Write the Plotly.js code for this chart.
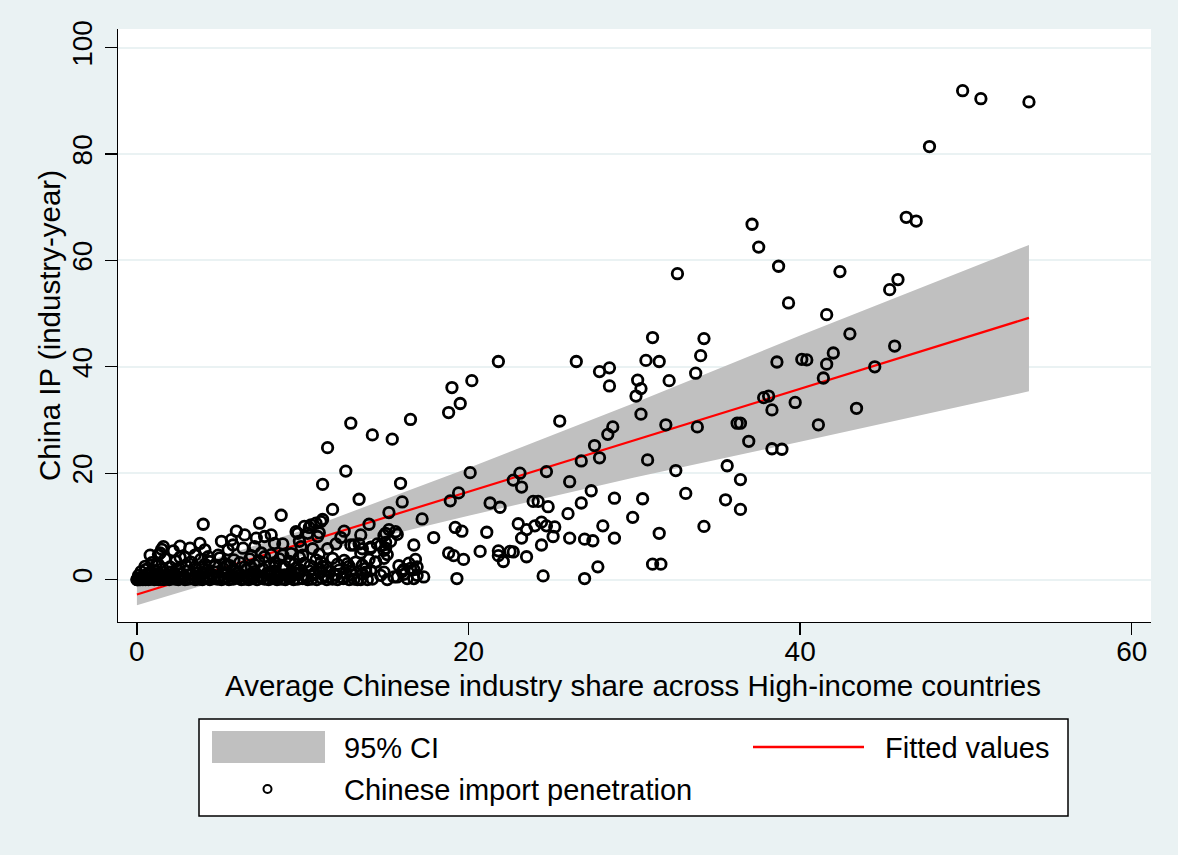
<!DOCTYPE html>
<html>
<head>
<meta charset="utf-8">
<script src="https://cdn.plot.ly/plotly-3.0.1.min.js"></script>
<style>html,body{margin:0;padding:0;background:#EAF2F3;}#chart{width:1178px;height:855px;}</style>
</head>
<body>
<div id="chart"></div>
<script>
// ---- Data ----
// x: Average Chinese industry share across High-income countries; y: China IP (industry-year)
const shareHigh = [
  53.8,50.9,49.8,47.8,46.4,47.0,37.1,37.5,38.7,42.4,
  32.6,45.9,45.4,39.3,41.6,43.0,31.1,34.2,45.7,42.0,
  34.0,40.1,40.4,30.7,31.5,38.6,41.6,44.5,33.7,41.4,
  30.2,32.1,30.4,30.1,38.1,37.8,39.7,43.4,38.3,30.4,
  36.2,36.4,31.9,41.1,33.8,36.9,38.3,38.9,30.8,35.6,
  32.5,36.4,33.1,30.5,35.5,36.4,29.9,34.2,31.5,31.1,
  31.6
];
const ipHigh = [
  89.8,90.4,91.9,81.4,68.1,67.4,66.8,62.5,58.9,57.9,
  57.5,56.4,54.5,52.0,49.8,46.2,45.5,45.3,43.9,42.6,
  42.1,41.4,41.3,41.2,41.0,40.9,40.5,40.0,38.8,37.9,
  37.5,37.4,35.9,34.5,34.5,34.2,33.3,32.2,31.9,31.1,
  29.4,29.4,29.1,29.1,28.7,26.0,24.6,24.5,22.5,21.4,
  20.5,18.8,16.2,15.2,15.0,13.2,11.7,10.0,8.7,2.9,
  2.9
];

const shareMid = [
  21.8,26.5,28.5,27.9,20.2,28.5,19.0,19.5,18.8,16.5,
  25.5,12.9,28.7,28.4,14.2,15.4,27.6,11.5,27.9,26.8,
  12.6,24.7,20.1,23.1,22.7,26.1,15.9,11.2,23.2,27.4,
  19.4,28.8,13.4,18.9,23.9,24.2,16.0,26.8,21.3,24.8,
  21.9,11.8,15.2,26.0,8.7,17.2,11.2,11.1,24.4,10.8,
  23.0,14.0,10.5,10.1,28.1,24.0,24.7,25.2,19.2,10.4,
  23.5,15.2,19.6,12.5,21.1,15.0,9.7,10.3,15.7,13.5,
  25.1,10.9,17.9,23.2,26.1,28.8,27.0,27.5,15.3,9.8,
  24.4,13.1,16.7,14.7,12.0,15.0,14.1,21.8,20.7,22.5,
  22.7,13.5,18.8,15.1,21.8,19.1,23.5,14.9,19.7,16.8,
  22.1,27.8,16.1,16.7,16.0,14.9,14.1,13.8,16.1,24.5,
  15.7,17.3,27.0,19.3,16.7,15.1,13.3,13.9
];
const ipMid = [
  41.0,41.0,39.8,39.1,37.4,36.4,36.1,33.1,31.4,30.1,
  29.8,29.4,28.7,27.3,27.2,26.4,25.2,24.8,22.9,22.3,
  20.4,20.3,20.1,20.0,18.7,18.4,18.1,17.9,17.4,16.7,
  16.3,15.3,15.1,14.8,14.7,14.7,14.6,14.4,14.4,13.7,
  13.6,13.2,12.6,12.4,12.1,11.4,11.3,10.9,10.8,10.6,
  10.5,10.4,10.3,10.0,10.1,10.1,10.1,9.9,9.8,9.8,
  9.4,9.4,9.1,9.1,8.9,8.7,8.7,8.7,8.5,8.4,
  8.1,8.1,7.9,7.8,7.8,7.8,7.6,7.3,7.2,7.2,
  6.5,6.5,6.5,6.4,6.7,5.9,5.9,5.4,5.3,5.3,
  5.2,5.0,5.0,4.7,4.5,4.5,4.3,4.0,3.8,3.8,
  3.4,2.4,1.9,1.9,1.5,1.4,1.7,1.4,1.0,0.7,
  0.5,0.5,0.2,0.2,0.2,0.0,0.0,0.0
];

const shareLow0 = [
  0.0,0.02,0.05,0.08,0.1,0.14,0.18,0.22,0.3,0.36,
  0.45,0.52,0.6,0.7,0.8,0.92,1.05,1.18,1.3,1.45,
  1.62,1.8,1.95,2.15,2.3,2.5,2.68,2.9,3.1,3.3,
  3.52,3.75,3.95,4.2,4.4,4.63,4.85,5.1,5.3,5.55,
  5.8,6.05,6.3,6.5,6.75,7.0,7.25,7.5,7.7,7.95,
  8.2,8.45,8.7,8.95,9.2,9.45,9.7,10.0,10.3,10.55,
  10.85,11.15,11.45,11.8,12.1,12.45,12.8,13.1,13.5,14.2
];
const ipLow0 = [
  0.0,0.0,0.1,0.0,0.2,0.0,0.1,0.0,0.3,0.0,
  0.1,0.0,0.2,0.0,0.1,0.3,0.0,0.2,0.0,0.1,
  0.0,0.3,0.0,0.2,0.1,0.0,0.3,0.0,0.1,0.2,
  0.0,0.1,0.0,0.3,0.0,0.2,0.1,0.0,0.2,0.0,
  0.1,0.3,0.0,0.1,0.0,0.2,0.0,0.3,0.1,0.0,
  0.2,0.0,0.1,0.0,0.3,0.0,0.1,0.2,0.0,0.1,
  0.0,0.3,0.0,0.1,0.0,0.2,0.0,0.1,0.0,0.1
];

const shareLow1 = [
  0.1,0.25,0.4,0.55,0.75,0.95,1.1,1.3,1.55,1.75,
  2.0,2.2,2.45,2.65,2.85,3.05,3.3,3.55,3.8,4.0,
  4.25,4.5,4.75,4.95,5.2,5.45,5.7,5.9,6.15,6.4,
  6.6,6.85,7.1,7.35,7.6,7.85,8.05,8.3,8.55,8.8,
  9.05,9.3,9.55,9.8,10.1,10.4,10.7,11.0,11.3,11.6,
  11.9,12.2,12.6,12.9,13.6
];
const ipLow1 = [
  0.8,1.5,0.7,1.9,1.2,0.6,1.7,1.0,2.1,0.8,
  1.4,0.7,1.9,1.1,0.6,1.6,1.0,2.0,0.7,1.3,
  1.8,0.9,1.4,0.6,2.1,1.1,0.8,1.7,1.2,0.7,
  1.9,1.0,1.5,0.6,2.0,1.2,0.8,1.6,1.0,2.2,
  0.7,1.4,1.1,1.9,0.8,1.6,1.2,2.0,0.7,1.5,
  0.9,1.8,1.2,1.6,1.1
];

const shareLow2 = [
  0.5,0.9,1.3,1.7,2.0,2.35,2.6,2.95,3.25,3.5,
  3.85,4.1,4.4,4.7,5.0,5.3,5.6,5.85,6.2,6.5,
  6.8,7.1,7.35,7.7,8.0,8.3,8.6,8.9,9.2,9.5,
  9.8,10.1,10.45,10.8,11.1,11.4,11.8,12.1,12.5,12.8,
  13.2,13.6,14.0,14.4
];
const ipLow2 = [
  2.5,3.2,2.8,3.9,2.4,3.5,4.2,2.7,3.3,2.4,
  3.8,2.9,3.4,2.5,4.1,3.0,2.6,3.7,3.2,2.4,
  3.9,2.8,3.5,4.3,2.6,3.2,3.9,2.5,3.4,2.9,
  4.2,3.1,2.6,3.7,3.3,2.4,4.0,2.9,3.6,2.5,
  3.3,2.7,3.8,3.3
];

const shareLow3 = [
  1.5,1.6,1.4,1.3,2.9,3.5,4.1,4.3,4.9,5.5,
  5.1,5.7,5.8,6.0,6.5,6.4,7.1,7.2,7.7,8.1,
  7.5,8.1,8.8,9.3,8.3,8.8,9.9,10.0,10.6,11.0,
  11.5,12.9,13.4,13.6,14.1,14.5,15.0,14.9,14.4,15.6,
  14.9,16.4,16.5,16.9,16.9,15.8,16.3,14.7,15.5,2.2,
  3.2,0.8,4.0,7.4,3.8,2.6,6.9,9.6,11.0,12.3
];
const ipLow3 = [
  5.7,6.2,5.0,4.7,4.2,4.6,5.6,4.3,4.6,5.6,
  7.2,7.5,6.5,9.1,8.4,5.9,6.2,7.8,8.1,8.4,
  5.0,4.7,4.6,4.9,6.8,6.7,6.2,4.6,5.8,4.8,
  5.8,6.5,6.7,5.8,6.1,6.7,7.0,8.3,3.3,9.0,
  5.5,3.1,2.1,2.4,0.8,2.6,0.2,0.8,0.5,5.4,
  5.9,4.6,10.4,10.6,6.8,6.3,4.5,9.0,8.8,7.9
];

const shareLow4 = [
  0.3,0.65,1.0,1.4,1.85,2.25,2.75,3.15,3.6,4.05,
  4.5,4.9,5.35,5.75,6.25,6.7,7.15,7.55,8.0,8.5,
  8.9,9.35,9.75,10.2,10.65,11.05,11.5,12.0,12.4,13.0,
  1.15,2.55,3.95,5.45,6.9,8.35,9.6,11.2,12.7,13.8
];
const ipLow4 = [
  0.5,1.1,0.4,0.9,0.5,1.3,0.4,0.9,1.2,0.5,
  1.0,0.4,1.3,0.6,0.9,0.4,1.1,0.6,1.3,0.5,
  0.9,0.6,1.2,0.4,0.9,1.3,0.5,0.8,0.4,0.9,
  2.6,2.2,2.4,2.7,2.3,2.6,2.2,2.5,3.0,2.1
];

// Fitted values and 95% CI band, read at a few x positions
const fitShare = [0, 53.8];
const fitIP = [-2.8, 49.2];
const ciShare = [0, 10, 20, 30, 40, 53.8];
const ciUpper = [-0.8, 9.3, 21.0, 33.2, 45.9, 62.9];
const ciLower = [-4.8, 4.5, 12.0, 19.2, 25.9, 35.4];

const xTicks = [0, 20, 40, 60];
const yTicks = [0, 20, 40, 60, 80, 100];

const xTitle = 'Average Chinese industry share across High-income countries';
const yTitle = 'China IP (industry-year)';
const legendLabels = ['95% CI', 'Fitted values', 'Chinese import penetration'];

// ---- Build traces ----
const allShare = [].concat(shareHigh, shareMid, shareLow0, shareLow1, shareLow2, shareLow3, shareLow4);
const allIP = [].concat(ipHigh, ipMid, ipLow0, ipLow1, ipLow2, ipLow3, ipLow4);

const FONT = '"Liberation Sans", Arial, Helvetica, sans-serif';
const BG = '#EAF2F3';

const bandTrace = {
  type: 'scatter', mode: 'lines',
  x: ciShare.concat(ciShare.slice().reverse()),
  y: ciUpper.concat(ciLower.slice().reverse()),
  fill: 'toself', fillcolor: '#C0C0C0',
  line: {width: 0, color: '#C0C0C0'},
  hoverinfo: 'skip', showlegend: false
};
const fitTrace = {
  type: 'scatter', mode: 'lines',
  x: fitShare, y: fitIP,
  line: {color: '#FF0000', width: 2.2},
  showlegend: false
};
const scatterTrace = {
  type: 'scatter', mode: 'markers',
  x: allShare, y: allIP,
  marker: {symbol: 'circle-open', size: 10.5, color: '#000000', line: {width: 2.8, color: '#000000'}},
  showlegend: false
};

// ---- Layout ----
const L = 118, R = 27, T = 29, B = 233;
const W = 1178 - L - R, H = 855 - T - B;
const px = v => (v - L) / W;
const py = v => (T + H - v) / H;

const legendShapes = [
  {type: 'rect', xref: 'paper', yref: 'paper', x0: px(199), x1: px(1068), y0: py(719), y1: py(816),
   line: {color: '#000000', width: 1.5}, fillcolor: '#FFFFFF', layer: 'below'},
  {type: 'rect', xref: 'paper', yref: 'paper', x0: px(212), x1: px(325), y0: py(731), y1: py(763),
   line: {width: 0}, fillcolor: '#C0C0C0'},
  {type: 'line', xref: 'paper', yref: 'paper', x0: px(753), x1: px(864), y0: py(747), y1: py(747),
   line: {color: '#FF0000', width: 2.5}},
  {type: 'circle', xref: 'paper', yref: 'paper', x0: px(263.5), x1: px(271.5), y0: py(785), y1: py(793),
   line: {color: '#000000', width: 2}, fillcolor: 'rgba(0,0,0,0)'}
];
const textFont = {family: FONT, size: 29, color: '#000000'};
const legendText = [
  {text: legendLabels[0], x: px(342), y: py(748)},
  {text: legendLabels[1], x: px(883), y: py(748)},
  {text: legendLabels[2], x: px(342), y: py(790)}
].map(a => Object.assign({xref: 'paper', yref: 'paper', xanchor: 'left', yanchor: 'middle',
  showarrow: false, font: textFont}, a));

const titleText = [
  {text: xTitle, x: px(633), y: py(686), xanchor: 'center', yanchor: 'middle'},
  {text: yTitle, x: px(49), y: py(326), xanchor: 'center', yanchor: 'middle', textangle: -90}
].map(a => Object.assign({xref: 'paper', yref: 'paper', showarrow: false,
  font: {family: FONT, size: 29.5, color: '#000000'}}, a));

const layout = {
  width: 1178, height: 855,
  paper_bgcolor: BG, plot_bgcolor: '#FFFFFF',
  margin: {l: L, r: R, t: T, b: B, pad: 0},
  font: {family: FONT, color: '#000000'},
  showlegend: false,
  xaxis: {
    range: [-1.14, 61.16], tickvals: xTicks, ticktext: xTicks.map(String),
    ticks: 'outside', ticklen: 12, tickwidth: 1.3, tickcolor: '#000000',
    showline: true, linecolor: '#000000', linewidth: 1.3,
    showgrid: false, zeroline: false,
    tickfont: {family: FONT, size: 28, color: '#000000'},
    ticklabelstandoff: -8
  },
  yaxis: {
    range: [-7.97, 103.5], tickvals: yTicks, ticktext: yTicks.map(String),
    tickangle: -90,
    ticks: 'outside', ticklen: 12, tickwidth: 1.3, tickcolor: '#000000',
    showline: true, linecolor: '#000000', linewidth: 1.3,
    showgrid: true, gridcolor: BG, gridwidth: 2, zeroline: false,
    tickfont: {family: FONT, size: 28, color: '#000000'},
    ticklabelstandoff: 2
  },
  shapes: legendShapes,
  annotations: legendText.concat(titleText)
};

Plotly.newPlot('chart', [bandTrace, fitTrace, scatterTrace], layout, {displayModeBar: false, staticPlot: true});
</script>
</body>
</html>
